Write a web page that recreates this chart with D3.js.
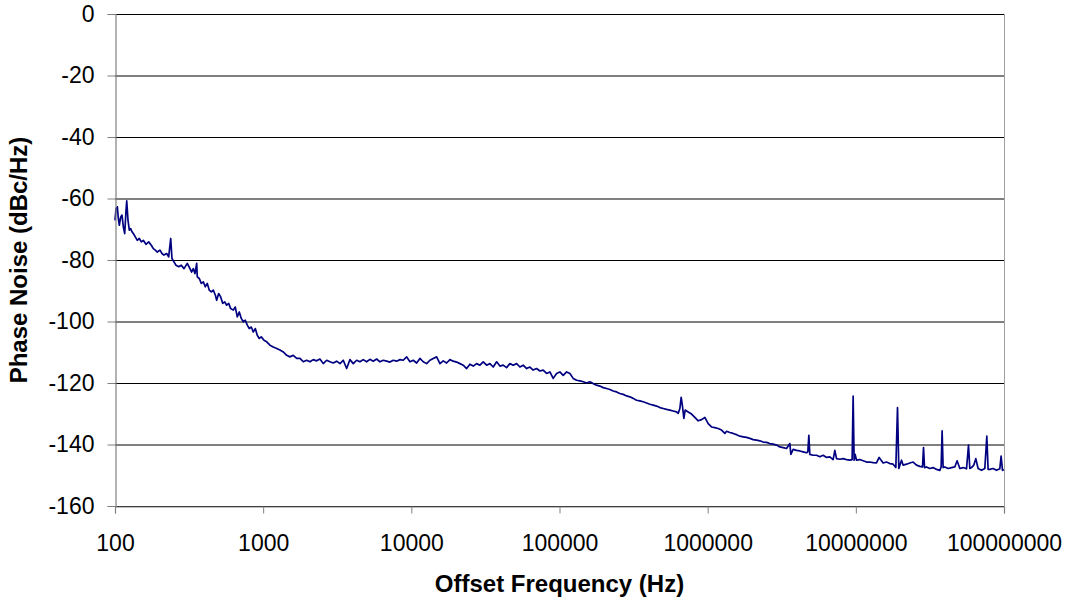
<!DOCTYPE html>
<html>
<head>
<meta charset="utf-8">
<script src="https://cdn.jsdelivr.net/npm/d3@7"></script>
<style>
	body { margin: 0; background: #fff; }
	text { font-family: Arial, "Liberation Sans", sans-serif; }
</style>
</head>
<body>
<div id="graph1"></div>
<script>
// offset frequency (Hz)
const offsetHz = [
	100, 101.6, 103.7, 105.3, 106.9, 109.3, 111.5, 113.8, 116.3, 118.7,
	120, 122.4, 124.9, 127.6, 130.2, 132.9, 137.1, 141.4, 145.9, 150.5,
	155.2, 161.8, 168.8, 175.8, 181.4, 187.1, 193, 201.2, 207.5, 214.1,
	223.3, 230.3, 237.7, 242.4, 250, 258, 269.2, 280.2, 292.2, 307.5,
	329.3, 337.6, 346.6, 355.9, 359.2, 370.6, 382.3, 394.4, 406.8, 419.6,
	432.9, 446.6, 460.7, 475.2, 485.6, 500.9, 516.7, 533.1, 549.9, 567.2,
	585.1, 603.6, 628.4, 648.2, 668.7, 689.8, 711.6, 734.1, 757.3, 781.2,
	805.9, 831.3, 857.6, 884.7, 912.6, 941.4, 971.1, 1013, 1056, 1111,
	1170, 1234, 1298, 1367, 1441, 1516, 1596, 1683, 1772, 1865,
	1966, 2069, 2178, 2296, 2417, 2544, 2682, 2823, 2972, 3133,
	3298, 3472, 3659, 3852, 4055, 4274, 4500, 4736, 4993, 5255,
	5533, 5833, 6140, 6464, 6814, 7172, 7550, 7959, 8377, 8818,
	9296, 9786, 10300, 10860, 11430, 12030, 12680, 13350, 14050, 14810,
	15600, 16410, 17300, 18220, 19170, 20220, 21280, 22400, 23610, 24860,
	26170, 27580, 29040, 30570, 32230, 33920, 35700, 37640, 39620, 41710,
	43950, 46270, 48710, 51340, 54050, 56890, 59980, 63140, 66450, 70050,
	73740, 77620, 81830, 86140, 90680, 95590, 100600, 105900, 111700, 117600,
	123700, 130500, 137300, 144500, 152400, 160400, 168800, 177900, 187300, 197200,
	207900, 218800, 230300, 242800, 255600, 269100, 283700, 298500, 314300, 331300,
	348700, 367100, 387000, 407400, 428800, 452100, 475900, 500900, 528000, 555700,
	585000, 616700, 632300, 649200, 662500, 677000, 690800, 705000, 738600, 778700,
	819600, 862800, 909500, 957400, 1008000, 1062000, 1118000, 1177000, 1241000, 1307000,
	1341000, 1412000, 1486000, 1567000, 1650000, 1736000, 1830000, 1927000, 2028000, 2138000,
	2250000, 2369000, 2497000, 2628000, 2767000, 2917000, 3070000, 3232000, 3407000, 3587000,
	3643000, 3776000, 3980000, 4189000, 4410000, 4649000, 4743000, 4818000, 4893000, 5151000,
	5430000, 5716000, 6017000, 6343000, 6677000, 7028000, 7216000, 7409000, 7799000, 8209000,
	8655000, 9110000, 9441000, 9590000, 9739000, 9892000, 10110000, 10640000, 11200000, 11810000,
	12430000, 13080000, 13790000, 14360000, 15290000, 16110000, 16960000, 17860000, 18620000, 19110000,
	19500000, 20340000, 20850000, 21990000, 23140000, 24360000, 25680000, 27030000, 28180000, 28630000,
	29080000, 30000000, 31570000, 33230000, 35040000, 36880000, 37640000, 38230000, 38820000, 39860000,
	41950000, 44240000, 46560000, 48250000, 50330000, 52980000, 55850000, 57610000, 58790000, 60360000,
	62550000, 64520000, 66870000, 70500000, 74220000, 76560000, 78120000, 80220000, 84440000, 89020000,
	93690000, 95600000, 97700000, 100000000
];

// phase noise (dBc/Hz), same order as offsetHz
const phaseNoiseDb = [
	-67.1, -63.3, -62.7, -66.5, -68.7, -66.0, -65.4, -69.2, -71.4, -63.8,
	-60.8, -67.1, -70.3, -69.8, -70.8, -71.4, -72.5, -73.6, -73.0, -74.1,
	-73.6, -74.9, -74.1, -75.2, -76.3, -76.8, -77.4, -76.8, -77.9, -78.4,
	-77.9, -79.0, -73.0, -79.5, -80.6, -81.7, -82.2, -81.7, -82.8, -81.1,
	-83.9, -82.8, -84.4, -81.1, -85.5, -86.0, -87.6, -87.1, -88.7, -87.6,
	-89.8, -90.4, -89.8, -91.4, -93.1, -90.9, -92.0, -94.1, -93.6, -94.7,
	-94.1, -95.8, -96.3, -95.3, -98.5, -96.9, -99.0, -100.1, -99.6, -101.2,
	-102.3, -101.8, -103.4, -102.3, -104.5, -105.5, -105.0, -106.1, -106.6, -107.7,
	-108.3, -108.8, -109.3, -109.9, -111.0, -111.5, -111.0, -112.0, -112.0, -113.1,
	-112.6, -113.1, -112.4, -112.8, -112.2, -113.7, -112.6, -113.1, -113.5, -112.9,
	-113.7, -112.6, -115.3, -112.4, -113.7, -112.6, -113.1, -112.4, -113.1, -112.3,
	-112.9, -112.2, -113.1, -112.6, -112.9, -113.2, -112.6, -112.9, -112.4, -112.6,
	-111.5, -113.1, -112.6, -113.5, -112.0, -113.1, -113.7, -112.6, -112.0, -111.5,
	-113.7, -112.8, -113.5, -112.4, -112.9, -113.2, -113.7, -114.2, -115.3, -113.9,
	-114.5, -113.7, -114.2, -113.1, -114.2, -113.7, -114.8, -113.1, -114.5, -114.2,
	-115.0, -113.7, -114.2, -113.7, -114.8, -114.2, -115.3, -114.8, -115.8, -115.3,
	-116.1, -115.8, -116.9, -116.4, -118.5, -116.9, -116.4, -117.5, -116.4, -116.9,
	-118.5, -119.1, -119.3, -119.6, -120.0, -119.6, -120.2, -120.7, -121.0, -121.5,
	-121.8, -122.1, -122.6, -122.9, -123.4, -123.7, -124.2, -124.5, -125.0, -125.6,
	-125.8, -126.1, -126.5, -126.9, -127.2, -127.5, -128.0, -128.3, -128.6, -128.8,
	-129.1, -129.4, -129.9, -128.3, -124.7, -127.8, -131.5, -128.8, -129.4, -130.1,
	-131.2, -132.3, -131.9, -131.2, -133.2, -134.3, -134.5, -134.8, -135.3, -136.4,
	-135.7, -136.1, -136.4, -136.8, -137.3, -137.5, -137.7, -138.0, -138.4, -138.6,
	-138.8, -139.2, -139.3, -139.7, -139.9, -140.2, -140.8, -141.0, -141.3, -139.7,
	-143.2, -141.6, -141.9, -142.1, -142.4, -142.7, -142.4, -137.0, -143.2, -143.5,
	-143.5, -144.0, -143.5, -144.2, -144.0, -144.9, -141.9, -144.6, -144.8, -144.6,
	-144.9, -145.1, -144.9, -124.3, -145.1, -143.2, -145.1, -144.9, -145.3, -145.7,
	-145.7, -145.9, -146.0, -144.2, -146.0, -145.7, -146.2, -146.4, -147.5, -128.0,
	-147.8, -145.1, -146.7, -146.4, -146.0, -145.7, -146.7, -147.1, -147.3, -141.0,
	-147.5, -147.3, -147.8, -147.5, -148.1, -148.4, -147.3, -135.6, -147.5, -147.3,
	-147.8, -147.5, -147.3, -145.3, -147.8, -147.5, -147.9, -140.2, -147.8, -147.5,
	-146.7, -144.6, -147.8, -148.4, -147.8, -137.3, -148.1, -148.1, -147.8, -148.4,
	-147.9, -143.8, -148.4, -148.2
];

const xTicks = [100, 1000, 10000, 100000, 1000000, 10000000, 100000000];
const yTicks = [0, -20, -40, -60, -80, -100, -120, -140, -160];

const data = offsetHz.map((f, i) => ({ f: f, pn: phaseNoiseDb[i] }));

const width = 1069;
const height = 600;

const margin = {
	top: 14,
	right: 65,
	bottom: 94,
	left: 115 };

const innerW = width - margin.left - margin.right;
const innerH = height - margin.top - margin.bottom;

const wrapper = d3
	.select("#graph1")
	.append("svg")
		.attr("width", width)
		.attr("height", height);

const bounds = wrapper
	.append("g")
	.attr("transform", `translate(${margin.left},${margin.top})`);

const xScale = d3
	.scaleLog()
	.domain([100, 100000000])
	.range([0, innerW]);

const yScale = d3
	.scaleLinear()
	.domain([-160, 0])
	.range([innerH, 0]);

// horizontal gridlines
bounds.append("g")
	.selectAll("line")
	.data(yTicks)
	.join("line")
		.attr("x1", 0)
		.attr("x2", innerW)
		.attr("y1", d => yScale(d) + 0.5)
		.attr("y2", d => yScale(d) + 0.5)
		.attr("stroke", "#000")
		.attr("stroke-width", 1);

// right border of plot area
bounds.append("line")
	.attr("x1", innerW + 0.5)
	.attr("x2", innerW + 0.5)
	.attr("y1", 0)
	.attr("y2", innerH)
	.attr("stroke", "#a0a0a0");

// trace
const lineGenerator = d3.line()
	.x(d => xScale(d.f))
	.y(d => yScale(d.pn));

bounds.append("path")
	.datum(data)
	.attr("d", lineGenerator)
	.attr("fill", "none")
	.attr("stroke", "#000080")
	.attr("stroke-width", 1.7)
	.attr("stroke-linejoin", "round");

// axes
const xAxisGenerator = d3.axisBottom(xScale)
	.tickValues(xTicks)
	.tickFormat(d => String(d))
	.tickSize(7)
	.tickPadding(21);

const xAxis = bounds.append("g")
	.attr("transform", `translate(0,${innerH + 0.5})`)
	.call(xAxisGenerator);

const yAxisGenerator = d3.axisLeft(yScale)
	.tickValues(yTicks)
	.tickFormat(d => String(d))
	.tickSize(8)
	.tickPadding(13);

const yAxis = bounds.append("g")
	.attr("transform", "translate(0.5,0)")
	.call(yAxisGenerator);

[xAxis, yAxis].forEach(ax => {
	ax.select(".domain").attr("stroke", "#808080").attr("stroke-width", 1.2);
	ax.selectAll(".tick line").attr("stroke", "#808080");
	ax.selectAll(".tick text")
		.attr("fill", "#000")
		.style("font-size", "23px")
		.style("font-family", "Arial, 'Liberation Sans', sans-serif");
});

// axis titles
wrapper.append("text")
	.attr("x", margin.left + innerW / 2)
	.attr("y", 592)
	.attr("text-anchor", "middle")
	.style("font-size", "24px")
	.style("font-weight", "bold")
	.text("Offset Frequency (Hz)");

wrapper.append("text")
	.attr("transform", `translate(27,${margin.top + innerH / 2}) rotate(-90)`)
	.attr("text-anchor", "middle")
	.style("font-size", "24px")
	.style("font-weight", "bold")
	.text("Phase Noise (dBc/Hz)");
</script>
</body>
</html>
